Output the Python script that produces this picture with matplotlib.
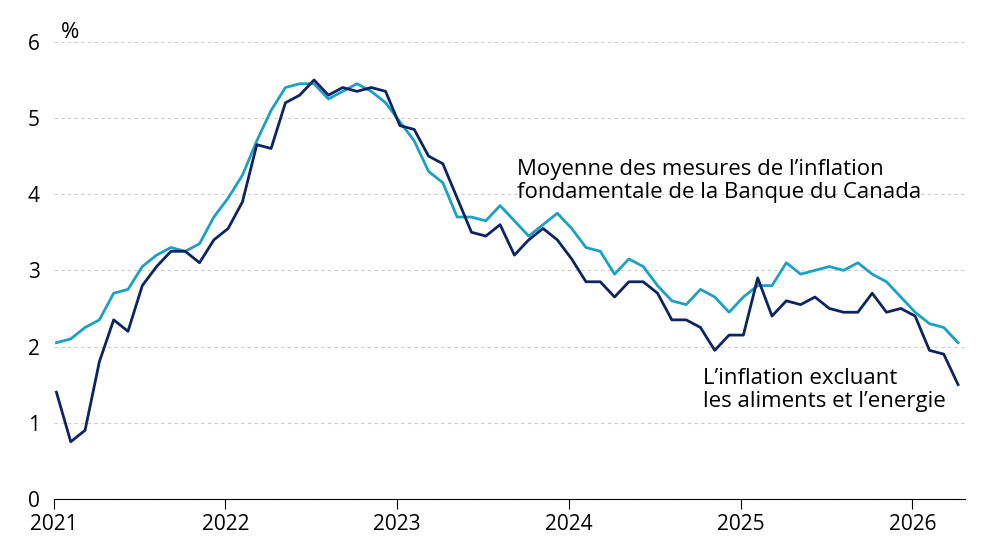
import matplotlib
matplotlib.use("Agg")
import matplotlib.pyplot as plt
import numpy as np
import pandas as pd

plt.rcParams['font.family'] = ['Open Sans', 'DejaVu Sans']

excl = [1.4,0.75,0.9,1.8,2.35,2.2,2.8,3.05,3.25,3.25,3.1,3.4,
        3.55,3.9,4.65,4.6,5.2,5.3,5.5,5.3,5.4,5.35,5.4,5.35,
        4.9,4.85,4.5,4.4,3.95,3.5,3.45,3.6,3.2,3.4,3.55,3.4,
        3.15,2.85,2.85,2.65,2.85,2.85,2.7,2.35,2.35,2.25,1.95,2.15,
        2.15,2.9,2.4,2.6,2.55,2.65,2.5,2.45,2.45,2.7,2.45,2.5,
        2.4,1.95,1.9,1.5]
core = [2.05,2.1,2.25,2.35,2.7,2.75,3.05,3.2,3.3,3.25,3.35,3.7,
        3.95,4.25,4.7,5.1,5.4,5.45,5.45,5.25,5.35,5.45,5.35,5.2,
        4.95,4.7,4.3,4.15,3.7,3.7,3.65,3.85,3.65,3.45,3.6,3.75,
        3.55,3.3,3.25,2.95,3.15,3.05,2.8,2.6,2.55,2.75,2.65,2.45,
        2.65,2.8,2.8,3.1,2.95,3.0,3.05,3.0,3.1,2.95,2.85,2.65,
        2.45,2.3,2.25,2.05]
years = [2021,2022,2023,2024,2025,2026]
x = 2021 + (np.arange(len(excl)) + 0.2)/12

fig = plt.figure(figsize=(9.92,5.58), dpi=100)
ax = fig.add_axes([0.054,0.106,0.919,0.819])
ax.plot(x, core, color='#1ba0c6', lw=2)
ax.plot(x, excl, color='#0c2461', lw=2)
ax.set_xlim(2021, 2021+63.7/12)
ax.set_ylim(0,6)
ax.set_yticks(range(7))
ax.set_xticks(years)
ax.set_xticklabels([str(y) for y in years])
ax.grid(axis='y', ls=(0,(3,3)), color='#cccccc', lw=0.8)
ax.set_axisbelow(True)
for s in ['top','right','left']:
    ax.spines[s].set_visible(False)
ax.spines['bottom'].set_color('black')
ax.tick_params(axis='y', length=0, labelsize=15, pad=10)
ax.tick_params(axis='x', direction='out', length=7, labelsize=15, pad=4)
ax.text(2021.04, 6.05, '%', fontsize=16)
ax.text(2023.7, 3.95, "Moyenne des mesures de l’inflation\nfondamentale de la Banque du Canada",
        fontsize=16, linespacing=1.15)
ax.text(2024.78, 1.2, "L’inflation excluant\nles aliments et l’energie",
        fontsize=16, linespacing=1.15)
fig.savefig('out.png', dpi=100)
